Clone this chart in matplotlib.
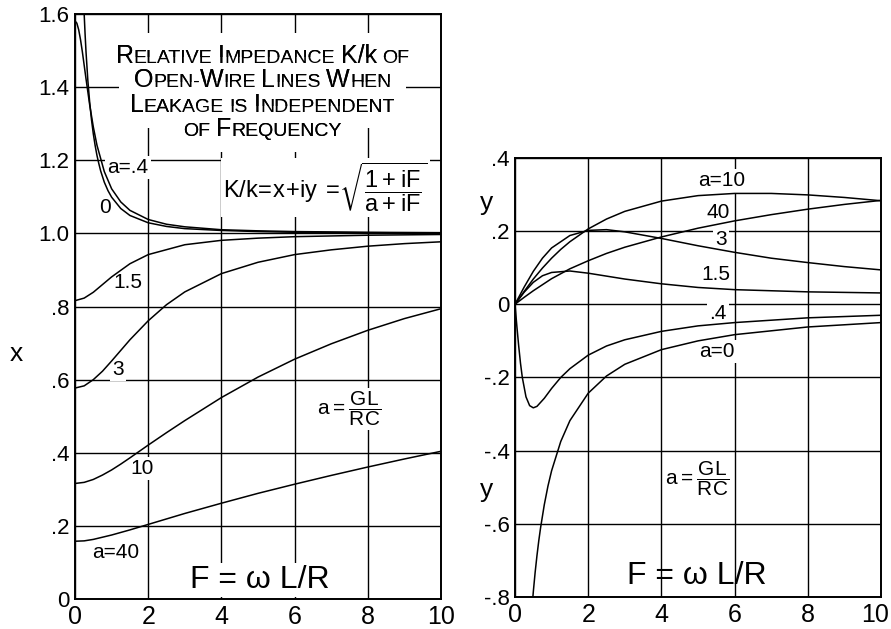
import matplotlib
matplotlib.use("Agg")
import matplotlib.pyplot as plt
from matplotlib.offsetbox import TextArea, HPacker, DrawingArea, AnnotationBbox
from matplotlib.transforms import ScaledTranslation

plt.rcParams['font.family'] = ['Liberation Sans', 'DejaVu Sans']
plt.rcParams['mathtext.default'] = 'regular'

# =========================
# Values, a = GL/RC
# =========================

F_40 = [0, 0.25, 0.5, 1, 1.5, 2, 2.5, 3, 4, 5, 6, 7, 8, 9, 10]
x_40 = [0.158, 0.159, 0.163, 0.175, 0.189, 0.204, 0.219, 0.234, 0.262, 0.289, 0.314, 0.338, 0.361, 0.383, 0.404]
y_40 = [0, 0.019, 0.037, 0.070, 0.097, 0.119, 0.139, 0.156, 0.184, 0.208, 0.228, 0.245, 0.260, 0.273, 0.284]

F_10 = [0, 0.25, 0.5, 0.75, 1, 1.25, 1.5, 2, 2.5, 3, 4, 5, 6, 7, 8, 9, 10]
x_10 = [0.316, 0.319, 0.327, 0.339, 0.353, 0.369, 0.386, 0.421, 0.455, 0.488, 0.551, 0.607, 0.656, 0.698, 0.735, 0.767, 0.794]
y_10 = [0, 0.035, 0.069, 0.099, 0.126, 0.150, 0.171, 0.206, 0.233, 0.254, 0.282, 0.297, 0.303, 0.303, 0.299, 0.292, 0.283]

F_3 = [0, 0.25, 0.5, 0.75, 1, 1.5, 2, 2.5, 3, 4, 5, 6, 7, 8, 9, 10]
x_3 = [0.577, 0.583, 0.600, 0.623, 0.651, 0.709, 0.761, 0.805, 0.840, 0.890, 0.921, 0.942, 0.955, 0.965, 0.972, 0.977]
y_3 = [0, 0.047, 0.090, 0.126, 0.154, 0.188, 0.202, 0.204, 0.198, 0.180, 0.160, 0.142, 0.126, 0.114, 0.103, 0.094]

F_15 = [0, 0.25, 0.5, 0.75, 1, 1.5, 2, 3, 4, 5, 6, 8, 10]
x_15 = [0.816, 0.823, 0.839, 0.860, 0.881, 0.917, 0.942, 0.969, 0.981, 0.987, 0.991, 0.995, 0.997]
y_15 = [0, 0.033, 0.060, 0.078, 0.087, 0.091, 0.085, 0.069, 0.056, 0.046, 0.040, 0.034, 0.031]

F_04 = [0, 0.05, 0.1, 0.15, 0.2, 0.3, 0.4, 0.5, 0.6, 0.8, 1, 1.25, 1.5, 2, 2.5, 3, 4, 5, 6, 8, 10]
x_04 = [1.581, 1.575, 1.557, 1.530, 1.497, 1.423, 1.352, 1.291, 1.241, 1.169, 1.122, 1.086, 1.063, 1.038, 1.025, 1.018, 1.010, 1.007, 1.005, 1.003, 1.002]
y_04 = [0, -0.059, -0.113, -0.161, -0.200, -0.253, -0.277, -0.283, -0.279, -0.257, -0.230, -0.200, -0.176, -0.139, -0.114, -0.097, -0.074, -0.059, -0.050, -0.037, -0.030]

F_0 = [0.25, 0.275, 0.3, 0.35, 0.4, 0.45, 0.5, 0.55, 0.6, 0.65, 0.7, 0.8, 0.9, 1, 1.25, 1.5, 2, 2.5, 3, 4, 5, 6, 8, 10]
x_0 = [1.600, 1.545, 1.497, 1.419, 1.359, 1.311, 1.272, 1.240, 1.213, 1.191, 1.171, 1.140, 1.117, 1.099, 1.068, 1.049, 1.029, 1.019, 1.013, 1.008, 1.005, 1.003, 1.002, 1.001]
y_0 = [-1.250, -1.177, -1.114, -1.007, -0.920, -0.848, -0.786, -0.733, -0.687, -0.646, -0.610, -0.548, -0.497, -0.455, -0.375, -0.318, -0.243, -0.196, -0.164, -0.124, -0.100, -0.083, -0.062, -0.050]

curves = [(F_40, x_40, y_40), (F_10, x_10, y_10), (F_3, x_3, y_3),
          (F_15, x_15, y_15), (F_04, x_04, y_04), (F_0, x_0, y_0)]

F_ticks = [0, 2, 4, 6, 8, 10]
F_labels = ["0", "2", "4", "6", "8", "10"]
x_ticks = [0, 0.2, 0.4, 0.6, 0.8, 1.0, 1.2, 1.4, 1.6]
x_labels = ["0", ".2", ".4", ".6", ".8", "1.0", "1.2", "1.4", "1.6"]
y_ticks = [-0.8, -0.6, -0.4, -0.2, 0, 0.2, 0.4]
y_labels = ["-.8", "-.6", "-.4", "-.2", "0", ".2", ".4"]

# curve names and where they are written
x_curve_names = ["a=.4", "0", "1.5", "3", "10", "a=40"]
x_name_pos = [(1.45, 1.18), (0.82, 1.07), (1.45, 0.865), (1.17, 0.628), (1.83, 0.358), (1.12, 0.127)]
y_curve_names = ["a=10", "40", "3", "1.5", ".4", "a=0"]
y_name_pos = [(5.65, 0.337), (5.55, 0.252), (5.63, 0.178), (5.49, 0.082), (5.55, -0.025), (5.52, -0.129)]

TITLE = ["Relative Impedance K/k of",
         "Open-Wire Lines When",
         "Leakage is Independent",
         "of Frequency"]
title_rows = [1.486, 1.420, 1.351, 1.285]

BIG = 18
SMALL = 14
white = dict(fc='white', ec='none', pad=1.5)


def caps_line(line):
    # hand-lettered small caps: capitals tall, the rest short capitals
    parts = []
    for n, word in enumerate(line.split(" ")):
        if n:
            parts.append(DrawingArea(4, 1))
        if word == "K/k":
            parts.append(TextArea("K/k", textprops=dict(fontsize=BIG)))
            continue
        run, big = "", None
        for ch in word:
            b = ch.isupper()
            if big is not None and b != big:
                parts.append(TextArea(run, textprops=dict(fontsize=BIG if big else SMALL)))
                run = ""
            run += ch.upper()
            big = b
        parts.append(TextArea(run, textprops=dict(fontsize=BIG if big else SMALL)))
    return HPacker(children=parts, align="baseline", pad=0, sep=0)


def setup(ax, yt, yl, ylim):
    ax.set_xlim(0, 10)
    ax.set_ylim(*ylim)
    ax.set_xticks(F_ticks)
    ax.set_xticklabels(F_labels, fontsize=18)
    ax.set_yticks(yt)
    ax.set_yticklabels(yl, fontsize=16)
    ax.tick_params(length=0, pad=4)
    ax.grid(True, color='black', lw=1.0)
    for s in ax.spines.values():
        s.set_linewidth(1.4)


fig = plt.figure(figsize=(8.91, 6.29), dpi=100)

# =========================
# Real part x
# =========================

ax1 = fig.add_axes([0.0842, 0.0477, 0.4108, 0.9300])
setup(ax1, x_ticks, x_labels, (0, 1.6))
for F, xs, ys in curves:
    ax1.plot(F, xs, color='black', lw=1.1)

for name, (fx, fy) in zip(x_curve_names, x_name_pos):
    ax1.text(fx, fy, name, fontsize=15, ha='center', va='center', bbox=white, zorder=1.8)

# white patches behind the title lines first, lettering on top of all of them
for row, line in zip(title_rows, TITLE):
    ax1.add_artist(AnnotationBbox(caps_line(line), (5.12, row), xycoords='data',
                                  frameon=True, pad=0.8,
                                  bboxprops=dict(fc='white', ec='none'), zorder=1.7))
for row, line in zip(title_rows, TITLE):
    ax1.add_artist(AnnotationBbox(caps_line(line), (5.12, row), xycoords='data',
                                  frameon=False, zorder=1.9))

ax1.text(6.85, 1.125, r"$K/k\!=\!x\!+\!iy\,=\!\sqrt{\dfrac{1+iF}{a+iF}}$",
         fontsize=17, ha='center', va='center', bbox=white, zorder=1.8)
ax1.text(7.5, 0.52, r"$a=\dfrac{GL}{RC}$", fontsize=15, ha='center', va='center',
         bbox=white, zorder=1.8)
ax1.text(5.05, 0.052, "F = ω L/R", fontsize=23, ha='center', va='center',
         bbox=white, zorder=1.8)

fig.text(16 / 891, 1 - 354 / 629, "x", fontsize=19, ha='center', va='center')

# =========================
# Imaginary part y
# =========================

ax2 = fig.add_axes([0.578, 0.0509, 0.4108, 0.698])
setup(ax2, y_ticks, y_labels, (-0.8, 0.4))
for F, xs, ys in curves:
    ax2.plot(F, ys, color='black', lw=1.1)

# keep the last tick number inside the page
last = ax2.get_xticklabels()[-1]
last.set_transform(last.get_transform() + ScaledTranslation(-6 / 100, 0, fig.dpi_scale_trans))

for name, (fx, fy) in zip(y_curve_names, y_name_pos):
    ax2.text(fx, fy, name, fontsize=15, ha='center', va='center', bbox=white, zorder=1.8)

ax2.text(4.97, -0.477, r"$a=\dfrac{GL}{RC}$", fontsize=15, ha='center', va='center',
         bbox=white, zorder=1.8)
ax2.text(4.97, -0.742, "F = ω L/R", fontsize=23, ha='center', va='center', zorder=1.8)

fig.text(487 / 891, 1 - 203 / 629, "y", fontsize=19, ha='center', va='center')
fig.text(487 / 891, 1 - 490 / 629, "y", fontsize=19, ha='center', va='center')

fig.savefig("out.png", dpi=100)
